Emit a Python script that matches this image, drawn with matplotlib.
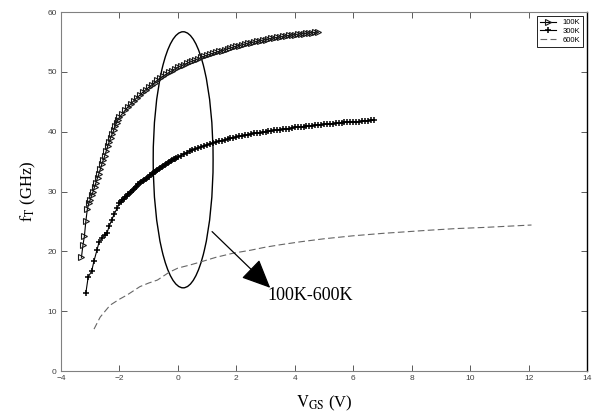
import matplotlib
matplotlib.use("Agg")
import matplotlib.pyplot as plt
from matplotlib.patches import Ellipse

# 100K series
vgs_100 = [-3.3, -3.25, -3.2, -3.15, -3.1, -3.05, -3.0, -2.95, -2.9, -2.85, -2.8, -2.75, -2.7, -2.65,
           -2.6, -2.55, -2.5, -2.45, -2.4, -2.35, -2.3, -2.25, -2.2, -2.15, -2.1, -2.05, -2.0,
           -1.9, -1.8, -1.7, -1.6, -1.5, -1.4, -1.3, -1.2, -1.1, -1.0, -0.9, -0.8, -0.7, -0.6,
           -0.5, -0.4, -0.3, -0.2, -0.1, 0.0, 0.1, 0.2, 0.3, 0.4, 0.5, 0.6, 0.7, 0.8, 0.9, 1.0,
           1.1, 1.2, 1.3, 1.4, 1.5, 1.6, 1.7, 1.8, 1.9, 2.0, 2.1, 2.2, 2.3, 2.4, 2.5, 2.6, 2.7,
           2.8, 2.9, 3.0, 3.1, 3.2, 3.3, 3.4, 3.5, 3.6, 3.7, 3.8, 3.9, 4.0, 4.1, 4.2, 4.3, 4.4,
           4.5, 4.6, 4.7, 4.8]
ft_100 = [19.0, 21.0, 22.5, 25.0, 27.0, 28.0, 28.6, 29.4, 30.0, 30.8, 31.5, 32.3, 33.0, 33.8,
          34.6, 35.3, 36.0, 36.8, 37.6, 38.3, 39.0, 39.6, 40.2, 40.9, 41.5, 42.0, 42.4,
          43.0, 43.6, 44.2, 44.7, 45.2, 45.7, 46.1, 46.6, 47.0, 47.4, 47.8, 48.2, 48.6, 49.0,
          49.3, 49.6, 49.9, 50.2, 50.5, 50.8, 51.0, 51.2, 51.4, 51.6, 51.8, 52.0, 52.2, 52.4, 52.6, 52.8,
          52.95, 53.1, 53.25, 53.4, 53.55, 53.7, 53.85, 54.0, 54.15, 54.3, 54.4, 54.55, 54.65, 54.8, 54.9, 55.0, 55.1,
          55.2, 55.3, 55.4, 55.5, 55.6, 55.7, 55.75, 55.85, 55.95, 56.0, 56.1, 56.15, 56.2, 56.3, 56.35, 56.4, 56.45,
          56.5, 56.55, 56.6, 56.65]

# 300K series
vgs_300 = [-3.15, -3.07, -2.95, -2.87, -2.77, -2.7, -2.6, -2.5, -2.43, -2.35, -2.26, -2.18, -2.08, -2.0,
           -1.95, -1.9, -1.85, -1.8, -1.75, -1.7, -1.65, -1.6, -1.55, -1.5, -1.45, -1.4, -1.35, -1.3,
           -1.25, -1.2, -1.15, -1.1, -1.05, -1.0, -0.95, -0.9, -0.85, -0.8, -0.75, -0.7, -0.65, -0.6,
           -0.55, -0.5, -0.45, -0.4, -0.35, -0.3, -0.25, -0.2, -0.15, -0.1, -0.05, 0.0,
           0.1, 0.2, 0.3, 0.4, 0.5, 0.6, 0.7, 0.8, 0.9, 1.0,
           1.1, 1.2, 1.3, 1.4, 1.5, 1.6, 1.7, 1.8, 1.9, 2.0, 2.1, 2.2, 2.3, 2.4, 2.5, 2.6, 2.7, 2.8,
           2.9, 3.0, 3.1, 3.2, 3.3, 3.4, 3.5, 3.6, 3.7, 3.8, 3.9, 4.0,
           4.1, 4.2, 4.3, 4.4, 4.5, 4.6, 4.7, 4.8, 4.9, 5.0, 5.1, 5.2, 5.3, 5.4, 5.5, 5.6, 5.7, 5.8,
           5.9, 6.0, 6.1, 6.2, 6.3, 6.4, 6.5, 6.6, 6.7]
ft_300 = [13.0, 15.7, 16.7, 18.4, 20.2, 21.5, 22.2, 22.8, 23.0, 24.2, 25.3, 26.2, 27.2, 28.0,
          28.2, 28.5, 28.7, 29.0, 29.2, 29.5, 29.7, 30.0, 30.2, 30.5, 30.7, 31.0, 31.2, 31.4,
          31.6, 31.8, 31.95, 32.1, 32.3, 32.5, 32.7, 32.9, 33.1, 33.3, 33.45, 33.6, 33.8, 34.0,
          34.15, 34.3, 34.45, 34.6, 34.75, 34.9, 35.05, 35.2, 35.35, 35.5, 35.65, 35.8,
          36.0, 36.3, 36.5, 36.7, 36.9, 37.1, 37.3, 37.5, 37.6, 37.8,
          37.95, 38.1, 38.25, 38.4, 38.5, 38.6, 38.75, 38.9, 39.0, 39.1, 39.2, 39.3, 39.4, 39.5, 39.6, 39.7, 39.75, 39.8,
          39.9, 40.0, 40.05, 40.1, 40.2, 40.3, 40.35, 40.4, 40.45, 40.5, 40.6, 40.7,
          40.75, 40.8, 40.85, 40.9, 40.95, 41.0, 41.05, 41.1, 41.15, 41.2, 41.25, 41.3, 41.35, 41.4, 41.45, 41.5, 41.55, 41.6,
          41.6, 41.6, 41.65, 41.7, 41.75, 41.8, 41.85, 41.9, 41.9]

# 600K series
vgs_600 = [-2.87, -2.66, -2.32, -2.0, -1.74, -1.3, -1.0, -0.7, -0.3, 0.0, 0.4, 0.76, 1.3, 1.9,
           2.5, 3.0, 3.5, 4.2, 5.0, 6.0, 7.0, 7.6, 8.5, 9.5, 10.5, 11.3, 12.1]
ft_600 = [7.0, 9.0, 11.0, 12.0, 12.7, 14.1, 14.7, 15.2, 16.5, 17.2, 17.7, 18.2, 19.0, 19.7,
          20.2, 20.7, 21.1, 21.6, 22.1, 22.6, 23.0, 23.2, 23.5, 23.8, 24.0, 24.2, 24.4]

series_labels = ["100K", "300K", "600K"]
x_ticks = [-4, -2, 0, 2, 4, 6, 8, 10, 12, 14]
y_ticks = [0, 10, 20, 30, 40, 50, 60]

plt.rcParams['mathtext.fontset'] = 'stix'

fig = plt.figure(figsize=(5.95, 4.17), dpi=100)
ax = fig.add_axes([0.1025, 0.1103, 0.8841, 0.8609])

ax.plot(vgs_100, ft_100, color='black', lw=0.8, marker='>', markersize=4.5,
        markerfacecolor='none', markeredgecolor='0.1', markeredgewidth=0.8, label=series_labels[0])
ax.plot(vgs_300, ft_300, color='black', lw=0.8, marker='+', markersize=5,
        markeredgewidth=1.1, label=series_labels[1])
ax.plot(vgs_600, ft_600, color='0.4', lw=0.8, ls=(0, (6, 3)), label=series_labels[2])

ell = Ellipse((0.18, 35.3), width=2.05, height=42.8, fill=False, edgecolor='black', lw=1.0)
ax.add_patch(ell)

ax.annotate("", xy=(3.16, 13.9), xytext=(1.17, 23.3),
            arrowprops=dict(arrowstyle='-|>,head_length=1.0,head_width=0.45', color='black',
                            lw=0.9, mutation_scale=18, shrinkA=0, shrinkB=0))
ax.text(3.05, 12.6, "100K-600K", family='Liberation Serif', fontsize=13, va='center', ha='left')

ax.set_xlim(-4, 14)
ax.set_ylim(0, 60)
ax.set_xticks(x_ticks)
ax.set_yticks(y_ticks)
ax.tick_params(direction='in', length=4, width=0.6, labelsize=6, top=True, right=True,
               colors='0.25', pad=3)
for lbl in ax.get_xticklabels() + ax.get_yticklabels():
    lbl.set_family('Liberation Sans')
for s in ['left', 'bottom', 'top']:
    ax.spines[s].set_color('0.5')
    ax.spines[s].set_linewidth(0.8)
ax.spines['right'].set_color('black')
ax.spines['right'].set_linewidth(1.0)

ax.set_xlabel(r"$\mathrm{V_{GS}}$ (V)", family='Liberation Serif', fontsize=12, labelpad=8)
ax.set_ylabel(r"$\mathrm{f_T}$ (GHz)", family='Liberation Serif', fontsize=12, labelpad=7)

leg = ax.legend(loc='upper right', fontsize=5.5, frameon=True, fancybox=False,
                edgecolor='black', framealpha=1, handlelength=2.2, borderpad=0.4,
                labelspacing=0.2, borderaxespad=0.5, prop={'family': 'Liberation Sans', 'size': 5.5})
leg.get_frame().set_linewidth(0.6)

fig.savefig("out.png", dpi=100)
